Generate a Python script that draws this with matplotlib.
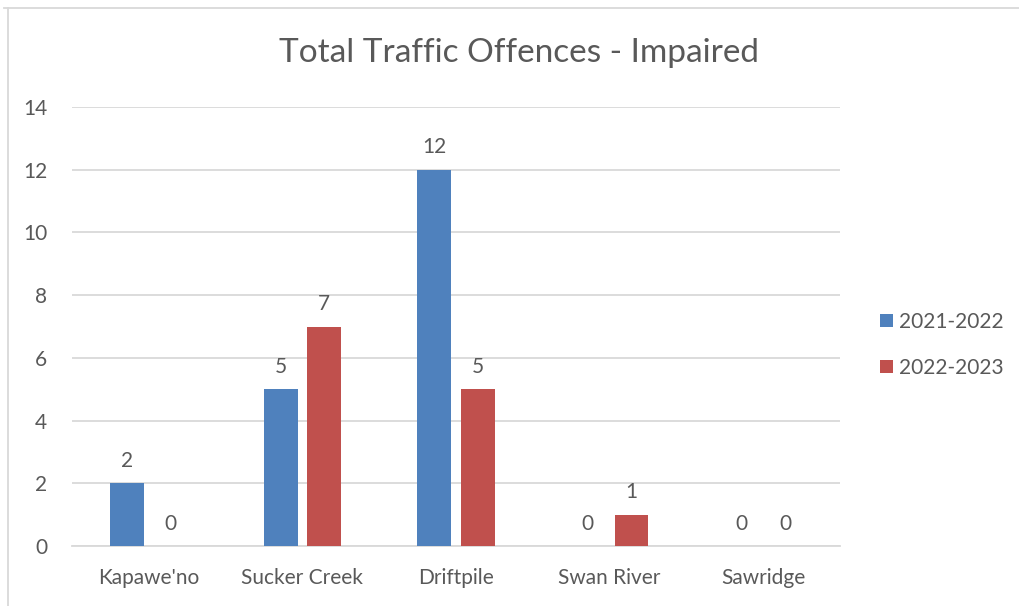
import matplotlib.pyplot as plt
from matplotlib.lines import Line2D
import numpy as np

categories = ["Kapawe'no", "Sucker Creek", "Driftpile", "Swan River", "Sawridge"]
series_names = ["2021-2022", "2022-2023"]
values_2122 = [2, 5, 12, 0, 0]
values_2223 = [0, 7, 5, 1, 0]

plt.rcParams['font.family'] = ['Lato', 'DejaVu Sans']
txt = '#595959'
grid = '#D9D9D9'
colors = ['#4F81BD', '#C0504D']

fig = plt.figure(figsize=(10.19, 6.06), dpi=100)
ax = fig.add_axes([0.0707, 0.099, 0.7536, 0.7244])

x = np.arange(len(categories))
w = 0.22
off = 0.142
for vals, dx, c, name in [(values_2122, -off, colors[0], series_names[0]),
                          (values_2223, off, colors[1], series_names[1])]:
    bars = ax.bar(x + dx, vals, width=w, color=c, label=name, zorder=3)
    for b, v in zip(bars, vals):
        ax.annotate(str(v), (b.get_x() + b.get_width() / 2, v),
                    xytext=(0, 9), textcoords='offset points',
                    ha='center', va='bottom', fontsize=15, color=txt)

ax.set_xlim(-0.5, len(categories) - 0.5)
ax.set_ylim(0, 14)
ax.set_yticks(range(0, 15, 2))
ax.set_xticks(x)
ax.set_xticklabels(categories)
ax.yaxis.grid(True, color=grid, linewidth=1.3, zorder=0)
ax.tick_params(axis='both', length=0, labelsize=15, colors=txt)
ax.tick_params(axis='x', pad=16)
ax.tick_params(axis='y', pad=18)
for s in ['top', 'right', 'left']:
    ax.spines[s].set_visible(False)
ax.spines['bottom'].set_color(grid)
ax.spines['bottom'].set_linewidth(1.3)

fig.text(0.509, 0.912, 'Total Traffic Offences - Impaired', ha='center', va='center',
         fontsize=24, color=txt)

leg = ax.legend(loc='center left', bbox_to_anchor=(1.028, 0.458), frameon=False,
                fontsize=15, labelcolor=txt, handlelength=0.6, handleheight=0.6,
                handletextpad=0.3, labelspacing=1.25)

# chart frame
fig.add_artist(Line2D([0.004, 1.0], [0.987, 0.987], color=grid, linewidth=1.3))
fig.add_artist(Line2D([0.008, 0.008], [0.0, 0.987], color=grid, linewidth=1.3))

fig.savefig('out.png', dpi=100)
